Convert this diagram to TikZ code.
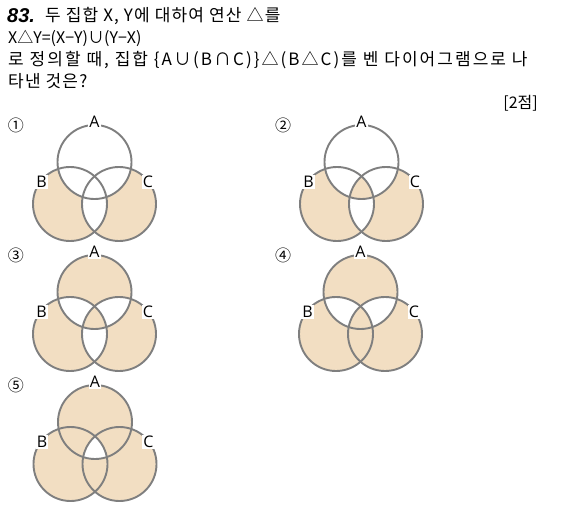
\documentclass[tikz,border=0pt]{standalone}
\usepackage{fontspec}
\usepackage{xcolor}
\usepackage{tikz}
\setmainfont{Noto Sans CJK KR}
\newfontfamily\spacedfont{Noto Sans CJK KR}[LetterSpace=7]
\newfontfamily\widefont{Noto Sans CJK KR}[LetterSpace=12]
\newfontfamily\labelfont{Open Sans}
\newfontfamily\numfont{Liberation Sans}
\definecolor{venntan}{HTML}{F2DEC2}
\definecolor{ringgray}{HTML}{7F7F7F}

\begin{document}
\begin{tikzpicture}[
  x=1pt, y=-1pt,
  every node/.style={text=black},
  vr/.style={radius=37pt},
  ring/.style={draw=ringgray, line width=1.9pt},
  setlabel/.style={font=\labelfont\fontsize{16}{16}\selectfont, fill=white, inner sep=1pt},
  choice/.style={font=\fontsize{16}{16}\selectfont, inner sep=0pt},
  qline/.style={anchor=base west, inner sep=0pt, font=\spacedfont\fontsize{17}{17}\selectfont},
  vennrings/.pic={
    \draw[ring] (0,0) circle[vr];
    \draw[ring] (-24.5,42) circle[vr];
    \draw[ring] (24.5,42) circle[vr];
    \node[setlabel] (A) at (0,-40) {A};
    \node[setlabel] (B) at (-53,20) {B};
    \node[setlabel] (C) at (53.5,20) {C};
  },
]
  \useasboundingbox (0,0) rectangle (562,509);

  % question
  \node[anchor=base west, inner sep=0pt, font=\numfont\bfseries\itshape\fontsize{20}{20}\selectfont] (num) at (7,22) {83.};
  \node[qline] (q1) at (45,21) {두 집합 X, Y에 대하여 연산 △를};
  \node[qline, font=\fontsize{16}{16}\selectfont] (q2) at (8,43) {X△Y=(X−Y)∪(Y−X)};
  \node[qline, font=\widefont\fontsize{17}{17}\selectfont] (q3) at (8,65) {로 정의할 때, 집합 \{A∪(B∩C)\}△(B△C)를 벤 다이어그램으로 나};
  \node[qline] (q4) at (8,87) {타낸 것은?};
  \node[anchor=base east, inner sep=0pt, font=\fontsize{16}{16}\selectfont] (pts) at (538,108) {[2점]};

  % choice 1
  \node[choice] (c1) at (16,125) {①};
  \begin{scope}[shift={(94.5,162)}]
    \fill[venntan] (-24.5,42) circle[vr] (24.5,42) circle[vr];
    \begin{scope}
      \clip (-24.5,42) circle[vr];
      \fill[white] (24.5,42) circle[vr];
    \end{scope}
    \fill[white] (0,0) circle[vr];
    \pic (v1) {vennrings};
  \end{scope}

  % choice 2
  \node[choice] (c2) at (283,125) {②};
  \begin{scope}[shift={(361.5,162)}]
    \fill[venntan] (-24.5,42) circle[vr] (24.5,42) circle[vr];
    \begin{scope}
      \clip (-24.5,42) circle[vr];
      \fill[white] (24.5,42) circle[vr];
    \end{scope}
    \fill[white] (0,0) circle[vr];
    \begin{scope}
      \clip (0,0) circle[vr];
      \clip (-24.5,42) circle[vr];
      \fill[venntan] (24.5,42) circle[vr];
    \end{scope}
    \pic (v2) {vennrings};
  \end{scope}

  % choice 3
  \node[choice] (c3) at (16,255) {③};
  \begin{scope}[shift={(94.5,292)}]
    \fill[venntan, even odd rule] (0,0) circle[vr] (-24.5,42) circle[vr] (24.5,42) circle[vr];
    \pic (v3) {vennrings};
  \end{scope}

  % choice 4
  \node[choice] (c4) at (283,255) {④};
  \begin{scope}[shift={(360.5,292)}]
    \fill[venntan] (0,0) circle[vr] (-24.5,42) circle[vr] (24.5,42) circle[vr];
    \begin{scope}
      \clip (0,0) circle[vr];
      \fill[white] (-24.5,42) circle[vr] (24.5,42) circle[vr];
    \end{scope}
    \begin{scope}
      \clip (-24.5,42) circle[vr];
      \fill[venntan] (24.5,42) circle[vr];
    \end{scope}
    \pic (v4) {vennrings};
  \end{scope}

  % choice 5
  \node[choice] (c5) at (16,385) {⑤};
  \begin{scope}[shift={(95,422)}]
    \fill[venntan] (0,0) circle[vr] (-24.5,42) circle[vr] (24.5,42) circle[vr];
    \begin{scope}
      \clip (0,0) circle[vr];
      \clip (-24.5,42) circle[vr];
      \fill[white] (24.5,42) circle[vr];
    \end{scope}
    \pic (v5) {vennrings};
  \end{scope}
\end{tikzpicture}
\end{document}
